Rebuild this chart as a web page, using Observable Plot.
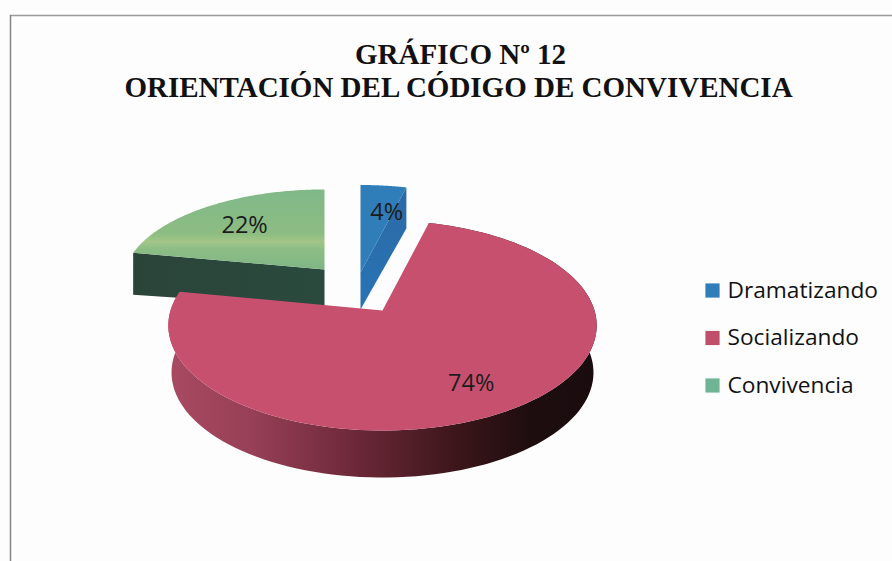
<!DOCTYPE html>
<html>
<head>
<meta charset="utf-8">
<script src="https://cdn.jsdelivr.net/npm/d3@7"></script>
<script src="https://cdn.jsdelivr.net/npm/@observablehq/plot@0.6"></script>
<style>html,body{margin:0;padding:0;background:#fdfdfd}svg{display:block}</style>
</head>
<body>
<script>
const titleLines = ["GRÁFICO Nº 12", "ORIENTACIÓN DEL CÓDIGO DE CONVIVENCIA"];
const categories = ["Dramatizando", "Socializando", "Convivencia"];
const values = [4, 74, 22];
const colors = ["#2f7db9", "#c8506f", "#86ba8a"];
const legendColors = ["#2f7db9", "#c04f6c", "#70b496"];

// Perspective view of each exploded slice (page pixels)
const views = [
  {x0: 360, y0: 272, A: 100,  B: 210, depth: 37, wall: "url(#wallBlue)",  drawOrder: 1, labelR: 0.72, labelDx: 9, labelDy: 5},
  {x0: 382, y0: 310, A: 102.9, B: 212, depth: 47, wall: "url(#wallRed)",  drawOrder: 2, labelR: 0.75, labelDx: -5, labelDy: 1},
  {x0: 324, y0: 269, A: 91.5, B: 200, depth: 38, wall: "url(#wallGreen)", drawOrder: 0, labelR: 0.7, labelDx: 3, labelDy: 2}
];
const k = 1 / 7;

function project(view, angle, r, down = 0, shrink = 1) {
  const u = Math.sin(angle) * r, v = Math.cos(angle) * r, d = 1 + k * v;
  return {x: view.x0 + view.B * shrink * u / d, y: view.y0 - view.A * v / d + down};
}

const total = d3.sum(values);
let cum = 0;
const slices = categories.map((category, i) => {
  const a0 = cum / total * 2 * Math.PI;
  cum += values[i];
  const a1 = cum / total * 2 * Math.PI;
  return {category, value: values[i], a0, a1, view: views[i], order: views[i].drawOrder};
});

function arcAngles(s) {
  return d3.range(0, 121).map(j => s.a0 + (s.a1 - s.a0) * j / 120);
}
function topPolygon(s) {
  const pts = [project(s.view, 0, 0), ...arcAngles(s).map(a => project(s.view, a, 1))];
  return pts.map(p => ({...p, category: s.category}));
}
function wallPolygon(s) {
  const v = s.view;
  let pts;
  if (s.category === "Socializando") {
    const angles = arcAngles(s);
    pts = [...angles.map(a => project(v, a, 1)),
           ...angles.slice().reverse().map(a => project(v, a, 1, v.depth, 0.985))];
  } else {
    const start = s.category === "Convivencia" ? s.a0 : s.a1;
    const end = project(v, start, 1), apex = project(v, 0, 0);
    pts = [end, apex, {x: apex.x, y: apex.y + v.depth}, {x: end.x, y: end.y + v.depth + 4}];
  }
  return pts.map(p => ({...p, category: s.category}));
}

const ordered = slices.slice().sort((a, b) => a.order - b.order);
const layers = ordered.flatMap(s => [
  Plot.line(wallPolygon(s), {x: "x", y: "y", fill: s.view.wall, stroke: "none", curve: "linear"}),
  Plot.line(topPolygon(s), {x: "x", y: "y", z: "category", fill: s.category === "Convivencia" ? "url(#topGreen)" : "category", stroke: "none", curve: "linear"})
]);

const labels = slices.map(s => {
  const p = project(s.view, (s.a0 + s.a1) / 2, s.view.labelR);
  return {x: p.x + s.view.labelDx, y: p.y + s.view.labelDy, text: s.value + "%"};
});

const legendYs = [290, 337.5, 385];
const legend = categories.map((category, i) => ({category, y: legendYs[i], swatch: legendColors[i]}));

const defs = () => d3.create("svg:defs").html(`
  <linearGradient id="wallRed" x1="0" x2="1" y1="0" y2="0">
    <stop offset="0" stop-color="#a84a62"/><stop offset="0.2" stop-color="#963f56"/>
    <stop offset="0.45" stop-color="#6a2737"/><stop offset="0.68" stop-color="#3a1519"/>
    <stop offset="0.85" stop-color="#1d0d0f"/><stop offset="1" stop-color="#1a0c0e"/>
  </linearGradient>
  <linearGradient id="wallGreen" x1="0" x2="1" y1="0" y2="0">
    <stop offset="0" stop-color="#2b4439"/><stop offset="1" stop-color="#2a4a3e"/>
  </linearGradient>
  <linearGradient id="wallBlue" x1="0" x2="0" y1="0" y2="1">
    <stop offset="0" stop-color="#2c6aa5"/><stop offset="1" stop-color="#2873b5"/>
  </linearGradient>
  <linearGradient id="topGreen" x1="0" x2="0" y1="0" y2="1">
    <stop offset="0" stop-color="#80b98a"/><stop offset="0.55" stop-color="#8cbc82"/>
    <stop offset="0.65" stop-color="#a3c688"/><stop offset="0.75" stop-color="#8cbd84"/>
    <stop offset="1" stop-color="#7fb586"/>
  </linearGradient>`).node();

const chart = Plot.plot({
  width: 892, height: 561, margin: 0,
  x: {domain: [0, 892], range: [0, 892], axis: null},
  y: {domain: [0, 561], range: [0, 561], axis: null},
  color: {domain: categories, range: colors},
  style: {background: "#fdfdfd"},
  marks: [
    defs,
    Plot.ruleY([15], {x1: 10, x2: 892, stroke: "#9a9a9a", strokeWidth: 1.5}),
    Plot.ruleX([10], {y1: 15, y2: 561, stroke: "#858585", strokeWidth: 1.5}),
    Plot.text(titleLines, {
      x: [460, 458], y: [54, 87], text: d => d,
      fontFamily: "Liberation Serif", fontWeight: "bold", fontSize: 29, fill: "#111"
    }),
    ...layers,
    Plot.text(labels, {x: "x", y: "y", text: "text", fontFamily: "Open Sans", fontSize: 23.5, fill: "#1c1c1c"}),
    Plot.dot(legend, {x: 712, y: "y", symbol: "square", r: 8, fill: "swatch", stroke: "none"}),
    Plot.text(legend, {x: 727, y: "y", text: "category", textAnchor: "start", fontFamily: "Open Sans", fontSize: 22.7, fill: "#111"})
  ]
});
document.body.appendChild(chart);
</script>
</body>
</html>
